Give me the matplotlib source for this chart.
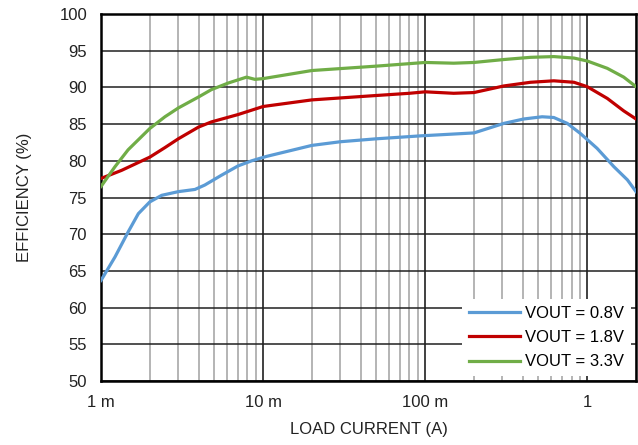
import matplotlib
matplotlib.use("Agg")
import matplotlib.pyplot as plt
from matplotlib import font_manager
from matplotlib.ticker import FixedLocator, FixedFormatter, LogLocator, NullFormatter

# Узкий шрифт, если он есть
names = {f.name for f in font_manager.fontManager.ttflist}
if 'Liberation Sans Narrow' in names:
    plt.rcParams['font.family'] = ['Liberation Sans Narrow', 'DejaVu Sans']
    fs = 13
else:
    plt.rcParams['font.family'] = ['Liberation Sans', 'DejaVu Sans']
    fs = 12

# Данные
i_08 = [0.001, 0.00122, 0.00147, 0.0017, 0.002, 0.00237, 0.003, 0.0038, 0.00437,
        0.0055, 0.007, 0.0085, 0.0105, 0.02, 0.03, 0.05, 0.0936, 0.2, 0.306, 0.406,
        0.527, 0.622, 0.753, 0.91, 1.15, 1.46, 1.77, 2.0]
eff_08 = [63.7, 66.9, 70.3, 72.8, 74.4, 75.3, 75.8, 76.1, 76.7,
          78.0, 79.3, 80.0, 80.6, 82.1, 82.6, 83.0, 83.4, 83.8, 85.1, 85.7,
          86.0, 85.9, 85.1, 83.7, 81.7, 79.2, 77.4, 75.8]

i_18 = [0.001, 0.00134, 0.002, 0.00248, 0.003, 0.004, 0.0048, 0.007, 0.01, 0.02,
        0.05, 0.08, 0.1, 0.15, 0.2, 0.306, 0.447, 0.622, 0.828, 1.0, 1.33, 1.68, 2.0]
eff_18 = [77.6, 78.7, 80.5, 81.8, 83.0, 84.6, 85.3, 86.3, 87.4, 88.3,
          88.9, 89.2, 89.4, 89.2, 89.3, 90.2, 90.7, 90.9, 90.7, 90.1, 88.5, 86.8, 85.7]

i_33 = [0.001, 0.00122, 0.00147, 0.002, 0.00248, 0.003, 0.004, 0.0048, 0.0061,
        0.0079, 0.0089, 0.01, 0.02, 0.05, 0.1, 0.15, 0.2, 0.306, 0.447, 0.622,
        0.828, 1.0, 1.33, 1.68, 2.0]
eff_33 = [76.5, 79.2, 81.5, 84.4, 86.0, 87.2, 88.7, 89.7, 90.6,
          91.4, 91.1, 91.2, 92.3, 92.9, 93.4, 93.3, 93.4, 93.8, 94.1, 94.2,
          94.0, 93.6, 92.6, 91.4, 90.1]

x_ticks = [0.001, 0.01, 0.1, 1]
x_labels = ["1 m", "10 m", "100 m", "1"]
y_ticks = list(range(50, 101, 5))

fig = plt.figure(figsize=(6.38, 4.45), dpi=100)
ax = fig.add_axes([0.1583, 0.1438, 0.8386, 0.8247])

ax.plot(i_08, eff_08, color="#5B9BD5", lw=2.3, label="VOUT = 0.8V", zorder=3)
ax.plot(i_18, eff_18, color="#C00000", lw=2.3, label="VOUT = 1.8V", zorder=3)
ax.plot(i_33, eff_33, color="#70AD47", lw=2.3, label="VOUT = 3.3V", zorder=3)

ax.set_xscale("log")
ax.set_xlim(0.001, 2)
ax.set_ylim(50, 100)
ax.xaxis.set_major_locator(FixedLocator(x_ticks))
ax.xaxis.set_major_formatter(FixedFormatter(x_labels))
ax.xaxis.set_minor_locator(LogLocator(base=10, subs=range(2, 10)))
ax.xaxis.set_minor_formatter(NullFormatter())
ax.set_yticks(y_ticks)

# Сетка
ax.grid(which="major", axis="x", color="#404040", lw=1.4)
ax.grid(which="minor", axis="x", color="#A0A0A0", lw=1.1)
ax.grid(which="major", axis="y", color="#202020", lw=1.1)
ax.set_axisbelow(True)
ax.tick_params(which="both", length=0, labelsize=fs, colors="#222222")
ax.tick_params(axis="x", pad=10)
ax.tick_params(axis="y", pad=10)
for s in ax.spines.values():
    s.set_linewidth(1.8)
    s.set_color("black")

ax.set_xlabel("LOAD CURRENT (A)", fontsize=fs, color="#222222", labelpad=9)
ax.set_ylabel("EFFICIENCY (%)", fontsize=fs, color="#222222", labelpad=20)

leg = ax.legend(loc="lower right", fontsize=fs, frameon=True, fancybox=False,
                edgecolor="white", framealpha=1, handlelength=3.1,
                labelspacing=0.55, borderaxespad=0.3, handletextpad=0.3)
leg.get_frame().set_linewidth(0)

fig.savefig("out.png", dpi=100)
